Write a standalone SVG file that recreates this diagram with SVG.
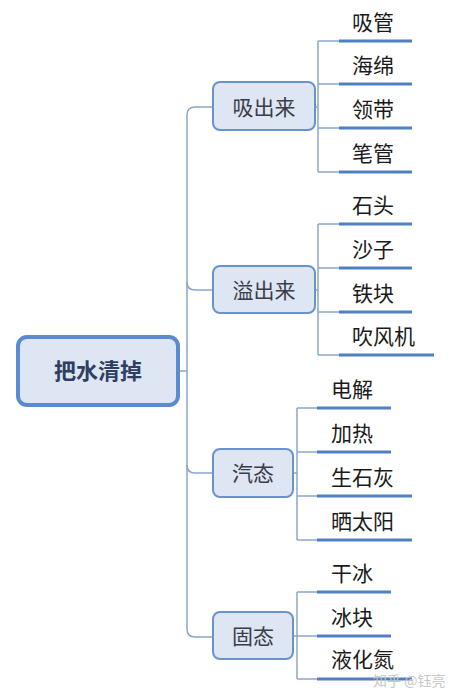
<svg xmlns="http://www.w3.org/2000/svg" width="453" height="697" viewBox="0 0 453 697">
<style>
.bg{fill:#ffffff}
.con{fill:none;stroke:#8ca6c8;stroke-width:1.5}
.ul{fill:none;stroke:#4f80c2;stroke-width:3}
.box{fill:#dde6f2;stroke:#6a93cb;stroke-width:2}
.root{fill:#dde6f2;stroke:#5a8ad0;stroke-width:4}
.t{font-family:"Noto Sans CJK SC","Liberation Sans",sans-serif;font-size:21px;fill:#1a1a1a}
.bt{font-family:"Noto Sans CJK SC","Liberation Sans",sans-serif;font-size:21px;fill:#3a3c48;text-anchor:middle}
.rt{font-family:"Noto Sans CJK SC","Liberation Sans",sans-serif;font-size:22px;font-weight:bold;fill:#2e3f63;text-anchor:middle}
.wm{font-family:"Noto Sans CJK SC","Liberation Sans",sans-serif;font-size:14px;fill:#c8c8c8}
</style>
<rect class="bg" x="0" y="0" width="453" height="697"/>
<g id="connectors">
<path class="con" d="M178 371 H187"/>
<path class="con" d="M213 107 H195 Q187 107 187 115 V629 Q187 637 195 637 H213"/>
<path class="con" d="M187 282 Q187 290 195 290 H213"/>
<path class="con" d="M187 465 Q187 473 195 473 H213"/>
<path class="con" d="M315 107 H318 M318 41 V172 M318 41 H339 M318 84 H339 M318 128 H339 M318 172 H339"/>
<path class="con" d="M315 290 H318 M318 224 V355 M318 224 H339 M318 268 H339 M318 312 H339 M318 355 H339"/>
<path class="con" d="M293 473 H297 M297 408 V540 M297 408 H317 M297 452 H317 M297 496 H317 M297 540 H317"/>
<path class="con" d="M293 636 H297 M297 592 V679 M297 592 H317 M297 636 H317 M297 679 H317"/>
<path class="ul" d="M339 41 H412 M339 84 H412 M339 128 H412 M339 172 H412"/>
<path class="ul" d="M339 224 H412 M339 268 H412 M339 312 H412 M339 355 H434"/>
<path class="ul" d="M317 408 H391 M317 452 H391 M317 496 H412 M317 540 H412"/>
<path class="ul" d="M317 592 H391 M317 636 H391 M317 679 H412"/>
</g>
<g id="root"><rect class="root" x="18" y="337" width="160" height="68" rx="9"/><text class="rt" x="98" y="379">把水清掉</text></g>
<g id="n-xichulai"><rect class="box" x="213" y="82" width="102" height="48" rx="7"/><text class="bt" x="264" y="115">吸出来</text></g>
<g id="n-yichulai"><rect class="box" x="213" y="266" width="102" height="47" rx="7"/><text class="bt" x="264" y="298">溢出来</text></g>
<g id="n-qitai"><rect class="box" x="213" y="449" width="80" height="48" rx="7"/><text class="bt" x="253" y="481">汽态</text></g>
<g id="n-gutai"><rect class="box" x="213" y="612" width="80" height="47" rx="7"/><text class="bt" x="253" y="644">固态</text></g>
<g id="leaf-1"><text class="t" x="352" y="30">吸管</text></g>
<g id="leaf-2"><text class="t" x="352" y="73">海绵</text></g>
<g id="leaf-3"><text class="t" x="352" y="117">领带</text></g>
<g id="leaf-4"><text class="t" x="352" y="161">笔管</text></g>
<g id="leaf-5"><text class="t" x="352" y="213">石头</text></g>
<g id="leaf-6"><text class="t" x="352" y="257">沙子</text></g>
<g id="leaf-7"><text class="t" x="352" y="301">铁块</text></g>
<g id="leaf-8"><text class="t" x="352" y="344">吹风机</text></g>
<g id="leaf-9"><text class="t" x="331" y="397">电解</text></g>
<g id="leaf-10"><text class="t" x="331" y="441">加热</text></g>
<g id="leaf-11"><text class="t" x="331" y="485">生石灰</text></g>
<g id="leaf-12"><text class="t" x="331" y="529">晒太阳</text></g>
<g id="leaf-13"><text class="t" x="331" y="581">干冰</text></g>
<g id="leaf-14"><text class="t" x="331" y="625">冰块</text></g>
<g id="leaf-15"><text class="t" x="331" y="667">液化氮</text></g>
<text class="wm" x="373" y="686">知乎 @钰亮</text>
</svg>
